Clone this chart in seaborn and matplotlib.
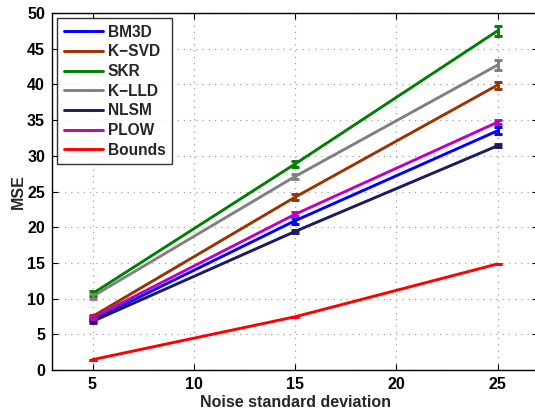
import matplotlib
matplotlib.use("Agg")
import matplotlib.pyplot as plt
import seaborn as sns
import pandas as pd

sns.set_theme(style="ticks")
plt.rcParams["font.family"] = ["Liberation Sans", "DejaVu Sans"]
plt.rcParams["font.weight"] = "bold"

noise = [5, 15, 25]
methods = ["BM3D", "K\u2212SVD", "SKR", "K\u2212LLD", "NLSM", "PLOW", "Bounds"]
mse_bm3d = [7.0, 20.9, 33.5]
mse_ksvd = [7.5, 24.2, 39.9]
mse_skr = [10.7, 28.85, 47.5]
mse_klld = [10.3, 27.1, 42.7]
mse_nlsm = [6.8, 19.4, 31.4]
mse_plow = [7.3, 21.8, 34.7]
mse_bounds = [1.45, 7.45, 14.85]
err_bm3d = [0.2, 0.4, 0.5]
err_ksvd = [0.2, 0.4, 0.5]
err_skr = [0.3, 0.4, 0.7]
err_klld = [0.3, 0.4, 0.7]
err_nlsm = [0.2, 0.2, 0.2]
err_plow = [0.2, 0.3, 0.3]
err_bounds = [0.0, 0.0, 0.0]

colors = ["#0000ff", "#993300", "#008000", "#808080", "#1a1a66", "#bf00bf", "#ff0000"]

series = [mse_bm3d, mse_ksvd, mse_skr, mse_klld, mse_nlsm, mse_plow, mse_bounds]
errors = [err_bm3d, err_ksvd, err_skr, err_klld, err_nlsm, err_plow, err_bounds]

rows = []
for name, vals in zip(methods, series):
    for x, v in zip(noise, vals):
        rows.append({"noise": x, "mse": v, "method": name})
df = pd.DataFrame(rows)

fig = plt.figure(figsize=(5.35, 4.13), dpi=100)
ax = fig.add_axes([52 / 535, 43 / 413, 486 / 535, 357 / 413])

sns.lineplot(data=df, x="noise", y="mse", hue="method", hue_order=methods,
             palette=colors, linewidth=2.1, ax=ax, legend=True)

for vals, errs, c in zip(series, errors, colors):
    ax.errorbar(noise, vals, yerr=errs, fmt="none", ecolor=c,
                elinewidth=2.1, capsize=2.7, capthick=2.1)

ax.set_xlim(3, 27)
ax.set_ylim(0, 50)
ax.set_xticks([5, 10, 15, 20, 25])
ax.set_yticks(range(0, 51, 5))
ax.grid(True, linestyle=(0, (1, 4)), color="#a0a0a0", linewidth=0.9)
ax.tick_params(direction="in", length=4, width=0.8, labelsize=11.5,
               top=True, right=True, colors="black", pad=5)
for lbl in ax.get_xticklabels() + ax.get_yticklabels():
    lbl.set_fontweight("bold")
for s in ax.spines.values():
    s.set_linewidth(1.0)
    s.set_color("black")

ax.set_xlabel("Noise standard deviation", fontsize=11.5, fontweight="bold", labelpad=2)
ax.set_ylabel("MSE", fontsize=11.5, fontweight="bold", labelpad=1)

leg = ax.legend(loc="upper left", fontsize=11.2, frameon=True, fancybox=False,
                handlelength=2.5, handletextpad=0.35, labelspacing=0.3,
                borderpad=0.4, borderaxespad=0.35)
leg.get_frame().set_edgecolor("black")
leg.get_frame().set_linewidth(1.0)
for t in leg.get_texts():
    t.set_fontweight("bold")
for h in leg.get_lines():
    h.set_linewidth(2.1)

fig.savefig("out.png", dpi=100)
